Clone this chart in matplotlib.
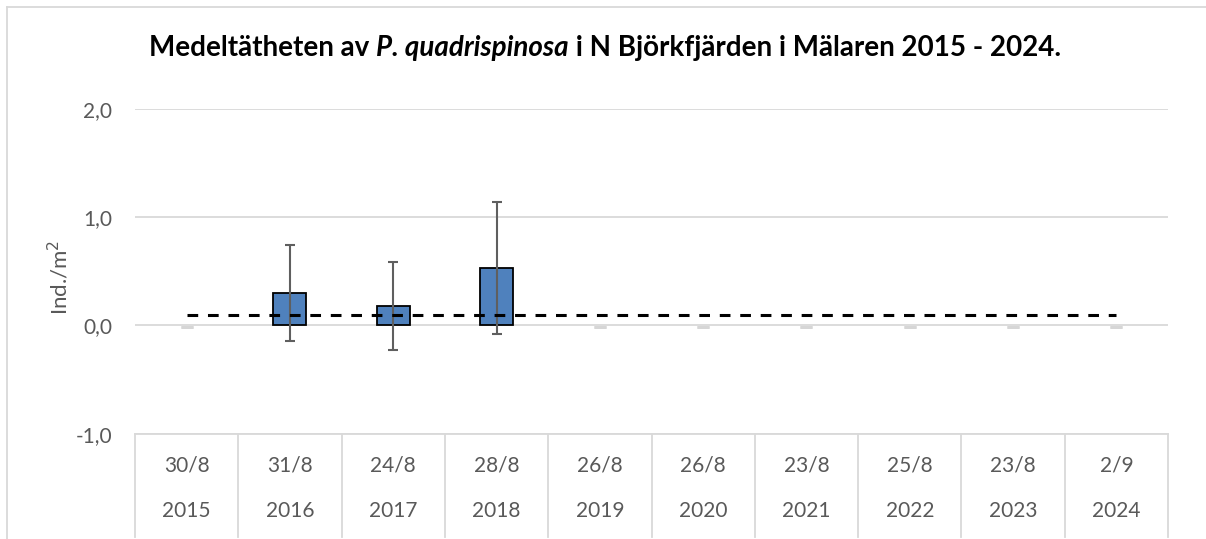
import numpy as np
import matplotlib.pyplot as plt
from matplotlib.transforms import blended_transform_factory

plt.rcParams['font.family'] = ['Lato', 'DejaVu Sans']

datum = ['30/8', '31/8', '24/8', '28/8', '26/8', '26/8', '23/8', '25/8', '23/8', '2/9']
ar = ['2015', '2016', '2017', '2018', '2019', '2020', '2021', '2022', '2023', '2024']
medel = [0.0, 0.30, 0.18, 0.53, 0.0, 0.0, 0.0, 0.0, 0.0, 0.0]
sd = [0.0, 0.44, 0.41, 0.61, 0.0, 0.0, 0.0, 0.0, 0.0, 0.0]
grans = [0.1] * 10

GRID = '#d9d9d9'
TXT = '#595959'

fig = plt.figure(figsize=(12.06, 5.39), dpi=100)
ax = fig.add_axes([135/1206, 1 - 433.7/539, (1168 - 135)/1206, (433.7 - 109)/539])

x = np.arange(len(ar))
nonzero = [i for i in x if medel[i] > 0]
zero = [i for i in x if medel[i] == 0]

ax.bar(nonzero, [medel[i] for i in nonzero], width=0.32, color='#4f81bd',
       edgecolor='black', linewidth=1.3, zorder=3)
ax.errorbar(nonzero, [medel[i] for i in nonzero], yerr=[sd[i] for i in nonzero],
            fmt='none', ecolor='#5f5f5f', elinewidth=1.5, capsize=3.8, capthick=1.5, zorder=4)
ax.errorbar(zero, [medel[i] - 0.012 for i in zero], yerr=[sd[i] for i in zero],
            fmt='none', ecolor='#d6d6d6', elinewidth=1.5, capsize=4.3, capthick=2, zorder=2)

ax.plot(x, grans, color='black', linestyle=(0, (3.5, 3.2)), linewidth=2.2, zorder=5)

ax.set_xlim(-0.5, len(ar) - 0.5)
ax.set_ylim(-1, 2)
ax.set_yticks([-1, 0, 1, 2])
ax.set_yticklabels(['-1,0', '0,0', '1,0', '2,0'])
ax.tick_params(axis='y', length=0, pad=16.5, labelsize=15, labelcolor=TXT)
ax.set_xticks([])
ax.grid(axis='y', color=GRID, linewidth=1.3, zorder=0)
for s in ['top', 'right', 'left']:
    ax.spines[s].set_visible(False)
ax.spines['bottom'].set_color(GRID)
ax.spines['bottom'].set_linewidth(1.3)

ax.set_ylabel('Ind./m$^2$', fontsize=16, color=TXT)
ax.yaxis.set_label_coords((72 - 135) / 1033, (433.7 - 277) / 324.7)

# kategoritabell under axeln
tr = blended_transform_factory(ax.transData, ax.transAxes)
bottom = -(537 - 433.7) / (433.7 - 109)
for b in np.arange(-0.5, len(ar), 1.0):
    ax.plot([b, b], [0, bottom], transform=tr, color=GRID, linewidth=1.3, clip_on=False)
for i in x:
    ax.text(i, -(465 - 433.7) / 324.7, datum[i], transform=tr, ha='center', va='center',
            fontsize=15, color=TXT)
    ax.text(i, -(511 - 433.7) / 324.7, ar[i], transform=tr, ha='center', va='center',
            fontsize=15, color=TXT)

# ram runt diagrammet
fig.add_artist(plt.Line2D([7/1206, 1.0], [1 - 7/539, 1 - 7/539], color=GRID, linewidth=1.3))
fig.add_artist(plt.Line2D([7/1206, 7/1206], [1 - 7/539, 0], color=GRID, linewidth=1.3))

# titel med kursivt artnamn
delar = [('Medeltätheten av ', 'normal'), ('P. quadrispinosa', 'italic'),
         (' i N Björkfjärden i Mälaren 2015 - 2024.', 'normal')]
fig.canvas.draw()
r = fig.canvas.get_renderer()
texter = [fig.text(0, 1 - 48/539, t, fontsize=20, fontweight='bold', style=st,
                   va='center', ha='left') for t, st in delar]
bredder = [tt.get_window_extent(r).width for tt in texter]
start = 605 - sum(bredder) / 2
for tt, w in zip(texter, bredder):
    tt.set_x(start / 1206)
    start += w

fig.savefig('out.png', dpi=100)
